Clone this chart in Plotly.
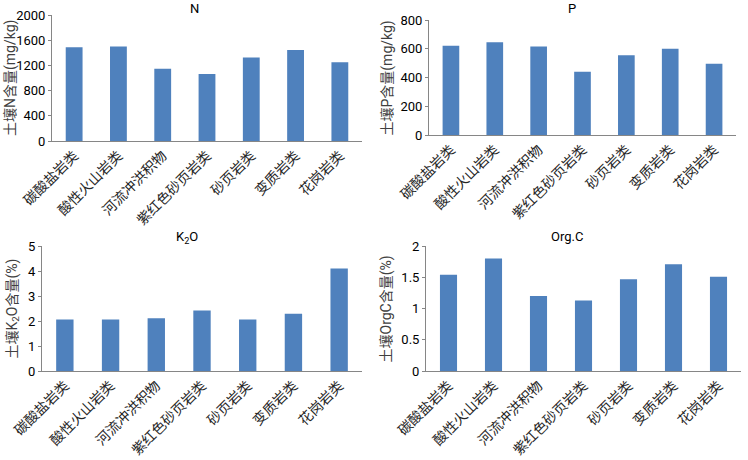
import plotly.graph_objects as go

categories = ["碳酸盐岩类", "酸性火山岩类", "河流冲洪积物", "紫红色砂页岩类", "砂页岩类", "变质岩类", "花岗岩类"]
n_values = [1490, 1500, 1145, 1065, 1325, 1445, 1250]
p_values = [620, 645, 615, 440, 555, 600, 495]
k2o_values = [2.06, 2.06, 2.11, 2.42, 2.06, 2.29, 4.10]
orgc_values = [1.54, 1.80, 1.20, 1.13, 1.47, 1.71, 1.51]

W, H = 748, 460
BAR = "#4F81BD"
AX = "#868686"
TICKFONT = dict(family="Roboto, Noto Sans", size=13, color="#000000")
CATFONT = dict(family="Noto Sans CJK SC", size=14, color="#262626")

panels = [
    # (values, title, ytitle, x px range, y px range (top,bottom), yrange, dtick, title pos, ytitle x)
    (n_values, "N", "土壤N含量(mg/kg)", (52, 362), (15, 141), [0, 2000], 400, (194, 8), 10),
    (p_values, "P", "土壤P含量(mg/kg)", (429, 736), (20, 135), [0, 800], 200, (572, 8), 387),
    (k2o_values, "K<sub>2</sub>O", "土壤K<sub>2</sub>O含量(%)", (42, 362), (246, 371), [0, 5], 1, (187, 237), 12),
    (orgc_values, "Org.C", "土壤OrgC含量(%)", (426, 741), (246, 371), [0, 2], 0.5, (567, 236), 386),
]

fig = go.Figure()
annotations = []
layout = {}
for i, (vals, title, ytitle, xr, yr, yrange, dtick, tpos, ytx) in enumerate(panels):
    idx = "" if i == 0 else str(i + 1)
    fig.add_trace(go.Bar(x=categories, y=vals, marker=dict(color=BAR, line=dict(width=0)),
                         xaxis="x" + idx, yaxis="y" + idx, showlegend=False))
    layout["xaxis" + idx] = dict(
        domain=[xr[0] / W, xr[1] / W], anchor="y" + idx, automargin=False,
        showline=True, linecolor=AX, linewidth=1, ticks="", tickangle=-45,
        tickfont=CATFONT, showgrid=False, zeroline=False, fixedrange=True,
    )
    layout["yaxis" + idx] = dict(
        domain=[1 - yr[1] / H, 1 - yr[0] / H], anchor="x" + idx, automargin=False,
        range=yrange, dtick=dtick, showline=True, linecolor=AX, linewidth=1,
        ticks="outside", ticklen=3, tickcolor=AX, tickfont=TICKFONT,
        showgrid=False, zeroline=False, fixedrange=True,
    )
    annotations.append(dict(text=title, x=tpos[0] / W, y=1 - tpos[1] / H, xref="paper", yref="paper",
                            showarrow=False, xanchor="center", yanchor="middle",
                            font=dict(family="Roboto, Noto Sans", size=13, color="#000000")))
    annotations.append(dict(text=ytitle, x=ytx / W, y=1 - ((yr[0] + yr[1]) / 2) / H, xref="paper", yref="paper",
                            showarrow=False, textangle=-90, xanchor="center", yanchor="middle",
                            font=dict(family="Roboto, Noto Sans CJK SC", size=14, color="#404040")))

fig.update_layout(
    width=W, height=H, margin=dict(l=0, r=0, t=0, b=0, autoexpand=False),
    paper_bgcolor="white", plot_bgcolor="white",
    bargap=0.62, annotations=annotations, **layout,
)
fig.write_html("out.html", config={"displayModeBar": False},
               post_script="document.body.style.margin='0';document.body.style.overflow='hidden';")
